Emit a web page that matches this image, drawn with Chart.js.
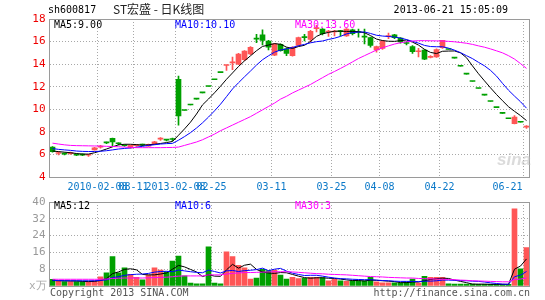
<!DOCTYPE html>
<html>
<head>
<meta charset="utf-8">
<script src="https://cdn.jsdelivr.net/npm/chart.js@4.4.0/dist/chart.umd.min.js"></script>
<style>
  body { margin: 0; background: #fff; }
  #wrap { position: relative; width: 545px; height: 300px; overflow: hidden; font-family: "DejaVu Sans Mono", monospace; font-size: 10px; }
  .t { position: absolute; white-space: nowrap; line-height: 12px; }
  #priceBox { position: absolute; left: 0; top: 0; }
  #volBox { position: absolute; left: 0; top: 190px; }
</style>
</head>
<body>
<div id="wrap">
  <canvas id="priceBox" width="545" height="190"></canvas>
  <canvas id="volBox" width="545" height="110"></canvas>

  <div class="t" style="left:48px;top:4px;color:#000;">sh600817</div>
  <div class="t" style="left:113px;top:2px;font:12px 'Noto Sans CJK SC';line-height:14px;color:#222;">ST宏盛 - 日K线图</div>
  <div class="t" style="right:37px;top:4px;color:#000;">2013-06-21 15:05:09</div>

  <div class="t" style="left:54px;top:19px;color:#000;">MA5:9.00</div>
  <div class="t" style="left:175px;top:19px;color:#0000ff;">MA10:10.10</div>
  <div class="t" style="left:295px;top:19px;color:#ff00ff;">MA30:13.60</div>

  <div class="t" style="left:54px;top:200px;color:#000;">MA5:12</div>
  <div class="t" style="left:175px;top:200px;color:#0000ff;">MA10:6</div>
  <div class="t" style="left:295px;top:200px;color:#ff00ff;">MA30:3</div>

  <div class="t" style="left:29px;top:280px;color:#aaa;font-size:11px;">x万</div>
  <div class="t" style="left:50px;top:287px;color:#555;">Copyright 2013 SINA.COM</div>
  <div class="t" style="right:15px;top:287px;color:#555;">http://finance.sina.com.cn</div>

  <div class="t" style="left:497px;top:151px;color:rgba(190,190,190,0.55);font:italic bold 17px 'Liberation Sans';line-height:18px;">sina</div>
</div>

<script>
// x axis labels (category index -> text)
const tickIdx = [8, 14, 21, 27, 37, 47, 55, 65, 79];
const tickText = ['2010-02-08', '08-11', '2013-02-08', '02-25', '03-11', '03-25', '04-08', '04-22', '06-21'];

// daily candles
const open = [
  6.65, 6.08, 6.06, 6.07, 5.97, 5.97, 5.93, 6.39, 6.65, 7.06,
  7.42, 6.98, 6.80, 6.57, 6.78, 6.85, 6.74, 6.92, 7.36, 7.30,
  7.35, 12.65, 9.89, 10.38, 10.90, 11.45, 12.02, 12.62, 13.25, 13.88,
  14.10, 14.00, 14.40, 14.90, 16.30, 16.60, 16.05, 14.80, 15.75, 15.35,
  14.75, 15.65, 16.40, 16.20, 17.15, 17.10, 16.85, 16.85, 16.95, 16.50,
  17.05, 16.85, 16.45, 16.35, 15.25, 15.40, 16.45, 16.60, 16.30, 15.88,
  15.55, 15.10, 15.25, 14.60, 14.65, 15.45, 15.30, 14.53, 13.81, 13.12,
  12.46, 11.84, 11.25, 10.69, 10.15, 9.64, 9.16, 8.72, 8.85, 8.42
];
const high = [
  6.70, 6.25, 6.15, 6.20, 6.05, 6.05, 6.00, 6.62, 6.80, 7.10,
  7.45, 7.02, 6.85, 6.83, 6.88, 6.92, 6.92, 7.15, 7.50, 7.33,
  7.45, 12.95, 9.89, 10.38, 10.90, 11.45, 12.02, 12.62, 13.25, 13.91,
  14.62, 14.95, 15.20, 15.55, 16.65, 17.05, 16.10, 15.85, 15.80, 15.45,
  15.55, 16.40, 16.65, 17.00, 17.45, 17.15, 17.00, 17.00, 17.00, 17.15,
  17.10, 17.10, 17.10, 16.40, 15.60, 16.12, 16.75, 16.65, 16.35, 16.00,
  15.65, 15.40, 15.30, 14.75, 15.35, 16.12, 15.30, 14.53, 13.81, 13.12,
  12.46, 11.84, 11.25, 10.69, 10.15, 9.64, 9.16, 9.45, 8.85, 8.55
];
const low = [
  6.20, 5.95, 5.95, 6.00, 5.88, 5.88, 5.82, 6.37, 6.55, 6.95,
  6.75, 6.85, 6.72, 6.55, 6.70, 6.75, 6.72, 6.90, 7.25, 7.20,
  7.20, 8.60, 9.89, 10.38, 10.90, 11.45, 12.02, 12.62, 13.25, 13.45,
  13.50, 13.95, 14.30, 14.85, 15.90, 15.70, 15.25, 14.75, 15.15, 14.75,
  14.70, 15.60, 16.05, 15.95, 16.85, 16.60, 16.45, 16.50, 16.50, 16.45,
  16.60, 16.40, 15.80, 15.50, 15.05, 15.30, 16.25, 16.25, 15.85, 15.70,
  14.95, 14.65, 14.40, 14.55, 14.60, 15.40, 15.30, 14.53, 13.81, 13.12,
  12.46, 11.84, 11.25, 10.69, 10.15, 9.64, 9.16, 8.70, 8.85, 8.30
];
const close = [
  6.25, 6.12, 6.02, 6.10, 5.94, 5.94, 5.96, 6.59, 6.68, 7.03,
  7.10, 6.95, 6.77, 6.80, 6.81, 6.83, 6.89, 7.12, 7.39, 7.27,
  7.32, 9.42, 9.89, 10.38, 10.90, 11.45, 12.02, 12.62, 13.25, 13.91,
  14.20, 14.90, 15.15, 15.50, 16.22, 16.10, 15.50, 15.80, 15.20, 14.95,
  15.50, 16.35, 16.35, 16.90, 17.20, 16.70, 16.90, 16.90, 16.88, 17.10,
  16.70, 16.80, 16.40, 15.65, 15.55, 16.05, 16.50, 16.35, 15.97, 15.83,
  15.10, 15.18, 14.45, 14.65, 15.30, 16.10, 15.30, 14.53, 13.81, 13.12,
  12.46, 11.84, 11.25, 10.69, 10.15, 9.64, 9.16, 9.30, 8.85, 8.45
];

// price moving averages as drawn
const ma5 = [
  6.30, 6.25, 6.20, 6.15, 6.08, 6.03, 6.03, 6.15, 6.30, 6.48,
  6.67, 6.85, 6.90, 6.90, 6.87, 6.82, 6.85, 6.90, 6.97, 7.05,
  7.15, 7.70, 8.26, 8.86, 9.58, 10.39, 10.91, 11.46, 12.04, 12.66,
  13.22, 13.79, 14.29, 14.74, 15.19, 15.57, 15.69, 15.82, 15.76, 15.51,
  15.39, 15.56, 15.67, 16.01, 16.46, 16.70, 16.81, 16.92, 16.92, 16.90,
  16.90, 16.88, 16.78, 16.53, 16.22, 16.09, 16.03, 16.02, 16.08, 16.14,
  15.95, 15.69, 15.31, 15.04, 14.94, 15.14, 15.16, 15.17, 15.00, 14.57,
  13.84, 13.15, 12.52, 11.90, 11.31, 10.76, 10.23, 9.82, 9.44, 9.00
];
const ma10 = [
  6.52, 6.45, 6.40, 6.36, 6.30, 6.27, 6.26, 6.26, 6.28, 6.33,
  6.40, 6.48, 6.53, 6.58, 6.64, 6.72, 6.80, 6.86, 6.92, 6.96,
  6.98, 7.26, 7.58, 7.93, 8.34, 8.80, 9.31, 9.86, 10.45, 11.12,
  11.80, 12.35, 12.88, 13.39, 13.92, 14.39, 14.74, 15.06, 15.25, 15.35,
  15.48, 15.63, 15.75, 15.89, 15.99, 16.05, 16.19, 16.30, 16.46, 16.68,
  16.80, 16.84, 16.85, 16.72, 16.56, 16.49, 16.45, 16.40, 16.31, 16.18,
  16.02, 15.86, 15.66, 15.56, 15.54, 15.54, 15.42, 15.24, 15.02, 14.75,
  14.49, 14.16, 13.85, 13.45, 12.94, 12.30, 11.69, 11.17, 10.67, 10.10
];
const ma30 = [
  7.00, 6.92, 6.85, 6.80, 6.78, 6.77, 6.76, 6.75, 6.74, 6.72,
  6.70, 6.68, 6.65, 6.62, 6.60, 6.60, 6.60, 6.60, 6.60, 6.61,
  6.62, 6.65, 6.80, 6.95, 7.10, 7.30, 7.55, 7.80, 8.10, 8.35,
  8.60, 8.85, 9.10, 9.35, 9.65, 9.95, 10.25, 10.55, 10.90, 11.15,
  11.45, 11.70, 11.95, 12.20, 12.50, 12.80, 13.10, 13.35, 13.62, 13.90,
  14.20, 14.50, 14.75, 15.00, 15.25, 15.45, 15.62, 15.78, 15.90, 15.98,
  16.05, 16.08, 16.08, 16.07, 16.06, 16.05, 16.02, 15.98, 15.92, 15.85,
  15.75, 15.62, 15.50, 15.35, 15.18, 15.00, 14.75, 14.45, 14.05, 13.62
];

// volume (x10k lots) and its moving averages
const vol = [
  3.2, 2.5, 2.1, 2.1, 2.1, 2.1, 2.1, 2.5, 4.4, 6.3,
  14.0, 6.3, 8.6, 5.6, 4.1, 2.9, 5.2, 8.6, 7.6, 6.8,
  11.9, 14.3, 4.9, 1.4, 1.0, 1.0, 18.6, 1.4, 1.0, 16.3,
  14.0, 9.8, 8.6, 3.3, 3.8, 7.9, 7.3, 7.6, 5.2, 3.3,
  4.1, 3.5, 3.7, 4.1, 4.1, 4.0, 2.5, 3.2, 2.5, 2.2,
  2.5, 2.5, 2.5, 4.1, 2.0, 1.5, 1.5, 1.5, 1.5, 1.9,
  3.3, 1.4, 4.6, 4.1, 4.1, 4.1, 1.0, 0.9, 0.9, 0.9,
  0.9, 0.8, 0.8, 0.8, 0.8, 0.8, 0.8, 36.7, 8.2, 18.3
];
const vma5 = [
  2.6, 2.5, 2.5, 2.4, 2.4, 2.2, 2.1, 2.2, 2.6, 3.5,
  5.9, 6.7, 7.9, 8.2, 7.7, 5.5, 5.3, 5.3, 5.7, 6.2,
  8.0, 9.8, 9.1, 7.9, 6.7, 4.5, 5.4, 4.7, 4.6, 7.7,
  10.3, 8.5, 9.9, 10.4, 7.9, 6.7, 6.2, 6.0, 6.4, 6.3,
  5.5, 4.7, 4.0, 3.7, 3.9, 3.9, 3.7, 3.6, 3.3, 2.9,
  2.6, 2.6, 2.4, 2.8, 2.7, 2.5, 2.3, 2.1, 1.6, 1.6,
  1.9, 1.9, 2.5, 3.1, 3.5, 3.7, 3.6, 2.8, 2.2, 1.6,
  0.9, 0.9, 0.9, 0.8, 0.8, 0.8, 0.8, 8.0, 9.5, 12.9
];
const vma10 = [
  2.7, 2.6, 2.5, 2.5, 2.5, 2.5, 2.5, 2.5, 2.7, 2.9,
  4.0, 4.4, 5.1, 5.4, 5.6, 5.7, 6.0, 6.6, 6.9, 7.0,
  6.8, 7.6, 7.2, 6.8, 6.5, 6.3, 7.6, 6.9, 6.2, 7.2,
  7.4, 6.9, 7.3, 7.5, 7.8, 8.5, 7.3, 8.0, 8.4, 7.1,
  6.1, 5.5, 5.0, 5.1, 5.1, 4.7, 4.2, 3.8, 3.5, 3.4,
  3.2, 3.1, 3.0, 3.0, 2.8, 2.6, 2.5, 2.3, 2.2, 2.2,
  2.2, 2.1, 2.3, 2.3, 2.5, 2.8, 2.8, 2.7, 2.6, 2.5,
  2.3, 2.2, 1.9, 1.5, 1.2, 0.9, 0.8, 4.4, 5.2, 6.9
];
const vma30 = [
  3.2, 3.2, 3.2, 3.2, 3.2, 3.2, 3.2, 3.2, 3.2, 3.3,
  3.6, 3.7, 3.8, 3.8, 3.8, 3.8, 3.9, 4.0, 4.1, 4.2,
  4.4, 4.7, 4.8, 4.8, 4.8, 4.8, 5.3, 5.3, 5.3, 5.7,
  6.0, 6.2, 6.4, 6.4, 6.5, 6.6, 6.7, 6.8, 6.8, 6.8,
  6.7, 6.5, 6.3, 6.1, 5.9, 5.8, 5.6, 5.5, 5.4, 5.3,
  5.1, 4.9, 4.7, 4.5, 4.4, 4.3, 4.1, 4.0, 3.9, 3.8,
  3.8, 3.6, 3.5, 3.4, 3.3, 3.2, 3.1, 3.0, 2.8, 2.7,
  2.5, 2.4, 2.3, 2.2, 2.1, 2.0, 2.0, 3.1, 3.3, 3.8
];

const RED = '#ff5656';
const GREEN = '#00a000';
const GRID = '#a8a8a8';

const days = open.map((_, i) => i);
const upDown = open.map((o, i) => close[i] > o ? RED : GREEN);

Chart.defaults.font.family = '"DejaVu Sans Mono", monospace';
Chart.defaults.animation = false;

// grey frame round the plot area
const frame = {
    id: 'frame',
    afterDraw(chart) {
        const { ctx, chartArea: a } = chart;
        ctx.save();
        ctx.strokeStyle = '#9a9a9a';
        ctx.lineWidth = 1;
        ctx.strokeRect(Math.floor(a.left) + 0.5, Math.floor(a.top) + 0.5,
            Math.round(a.right - a.left), Math.round(a.bottom - a.top));
        ctx.restore();
    }
};

// date labels sit on the grid line, last one kept inside the frame
const dateLabels = {
    id: 'dateLabels',
    afterDraw(chart) {
        const { ctx, chartArea: a } = chart;
        const x = chart.scales.x;
        ctx.save();
        ctx.font = '10px "DejaVu Sans Mono"';
        ctx.fillStyle = '#0a78c8';
        ctx.textBaseline = 'top';
        ctx.textAlign = 'left';
        tickIdx.forEach((idx, k) => {
            const w = ctx.measureText(tickText[k]).width;
            let px = x.getPixelForValue(idx) - 3 - w / 2;
            if (px + w > a.right - 7) px = a.right - 7 - w;
            ctx.fillText(tickText[k], px, a.bottom + 5);
        });
        ctx.restore();
    }
};

const vGrid = {
    color: c => tickIdx.includes(c.index) ? GRID : 'rgba(0,0,0,0)',
    drawTicks: false,
    offset: true
};

function maLine(data, color) {
    return {
        type: 'line',
        data: data,
        borderColor: color,
        borderWidth: 1,
        pointRadius: 0,
        tension: 0,
        order: 0
    };
}

new Chart(document.getElementById('priceBox'), {
    type: 'bar',
    data: {
        labels: days,
        datasets: [
            maLine(ma30, '#ff00ff'),
            maLine(ma10, '#0000ff'),
            maLine(ma5, '#000000'),
            {
                // bodies
                data: open.map((o, i) => [o, close[i]]),
                backgroundColor: upDown,
                barThickness: 5,
                minBarLength: 1,
                grouped: false,
                order: 1
            },
            {
                // wicks
                data: low.map((l, i) => [l, high[i]]),
                backgroundColor: upDown,
                barThickness: 1,
                grouped: false,
                order: 2
            }
        ]
    },
    options: {
        responsive: false,
        layout: { padding: { left: 0, top: 19, right: 15.5, bottom: 0 } },
        plugins: { legend: { display: false }, tooltip: { enabled: false } },
        scales: {
            x: {
                offset: true,
                grid: vGrid,
                border: { display: false, dash: [1, 2] },
                ticks: { display: false },
                afterFit: s => { s.height = 13; }
            },
            y: {
                min: 4,
                max: 18,
                ticks: { stepSize: 2, color: '#ee0000', font: { size: 11 }, padding: 4 },
                grid: {
                    color: c => (c.tick && (c.tick.value === 4 || c.tick.value === 18)) ? 'rgba(0,0,0,0)' : GRID,
                    drawTicks: false
                },
                border: { display: false, dash: [1, 2] },
                afterFit: s => { s.width = 49.5; }
            }
        }
    },
    plugins: [frame, dateLabels]
});

new Chart(document.getElementById('volBox'), {
    type: 'bar',
    data: {
        labels: days,
        datasets: [
            maLine(vma30, '#ff00ff'),
            maLine(vma10, '#0000ff'),
            maLine(vma5, '#000000'),
            {
                data: vol,
                backgroundColor: upDown,
                barThickness: 5,
                grouped: false,
                order: 1
            }
        ]
    },
    options: {
        responsive: false,
        layout: { padding: { left: 0, top: 12, right: 15.5, bottom: 14 } },
        plugins: { legend: { display: false }, tooltip: { enabled: false } },
        scales: {
            x: {
                offset: true,
                grid: vGrid,
                border: { display: false, dash: [1, 2] },
                ticks: { display: false },
                afterFit: s => { s.height = 0; }
            },
            y: {
                min: 0,
                max: 40,
                ticks: {
                    stepSize: 8,
                    color: '#999',
                    font: { size: 11 },
                    padding: 4,
                    callback: v => v === 0 ? '' : v
                },
                grid: {
                    color: c => (c.tick && (c.tick.value === 0 || c.tick.value === 40)) ? 'rgba(0,0,0,0)' : GRID,
                    drawTicks: false
                },
                border: { display: false, dash: [1, 2] },
                afterFit: s => { s.width = 49.5; }
            }
        }
    },
    plugins: [frame]
});
</script>
</body>
</html>
